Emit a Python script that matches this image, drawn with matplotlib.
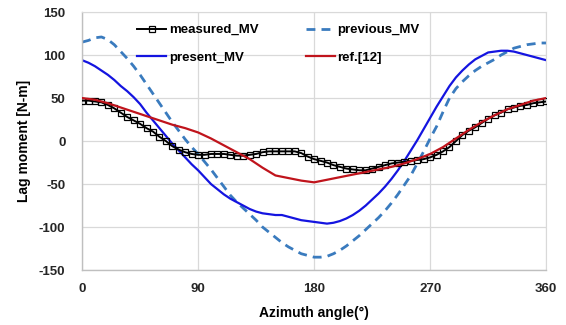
import matplotlib
matplotlib.use("Agg")
import matplotlib.pyplot as plt
import numpy as np

plt.rcParams['font.family'] = ['Liberation Sans', 'DejaVu Sans']
plt.rcParams['axes.unicode_minus'] = False

angle = list(range(0, 361, 5))

measured_MV = [47, 47, 46, 45, 42, 38, 33, 28, 24, 20, 15, 11, 5, 0, -6, -10, -13, -15,
               -16, -16, -15, -15, -15, -16, -17, -17, -16, -15, -13, -12, -12, -12, -12,
               -12, -14, -18, -21, -23, -25, -28, -30, -32, -33, -34, -34, -32, -30, -28,
               -26, -25, -24, -23, -22, -21, -19, -16, -12, -7, 0, 7, 12, 16, 21, 26, 30,
               33, 37, 39, 41, 42, 44, 45, 46]

present_MV = [94, 91, 87, 82, 77, 71, 64, 58, 51, 43, 33, 24, 15, 6, -3, -11, -19, -27,
              -34, -42, -50, -56, -62, -67, -71, -75, -79, -82, -84, -85, -86, -86, -88,
              -90, -92, -93, -94, -95, -96, -95, -93, -90, -86, -81, -75, -68, -61, -53,
              -44, -34, -23, -11, 1, 14, 27, 40, 52, 64, 74, 82, 89, 95, 99, 103, 104,
              105, 105, 104, 102, 100, 98, 96, 94]

previous_MV = [115, 117, 120, 121, 118, 112, 104, 96, 87, 77, 66, 55, 44, 33, 22, 12, 2,
               -7, -15, -24, -33, -43, -53,
               -63, -71, -78, -85, -92, -100, -106, -112, -118, -123,
               -127, -131, -133, -135, -135, -134, -131, -127, -122, -116,
               -110, -103, -96, -89, -81, -72, -62, -51, -40, -26,
               -12, 3, 17, 34, 50, 61, 69, 76, 82, 87,
               91, 95, 100, 104, 108, 110, 112, 113, 114, 114]

ref_angle = list(range(0, 361, 10))
ref_12 = [50, 48, 44, 39, 34, 29, 24, 19, 15, 10, 3, -5, -13, -21, -31, -40, -43, -46,
          -48, -45, -42, -39, -36, -33, -30, -26, -21, -15, -7, 3, 13, 22, 30, 37, 42,
          47, 50]

x_ticks = [0, 90, 180, 270, 360]
y_ticks = [-150, -100, -50, 0, 50, 100, 150]

fig = plt.figure(figsize=(5.66, 3.25), dpi=100)
ax = fig.add_axes([0.145, 0.169, 0.82, 0.794])

l_meas, = ax.plot(angle, measured_MV, color='black', lw=1.4, marker='s', markersize=4.5,
                  markerfacecolor='none', markeredgecolor='black', markeredgewidth=0.9,
                  label='measured_MV', zorder=3)
l_prev, = ax.plot(angle, previous_MV, color='#3A7BBE', lw=2.0, dashes=(3.2, 2.2),
                  label='previous_MV', zorder=2)
l_pres, = ax.plot(angle, present_MV, color='#1414E0', lw=1.6, label='present_MV', zorder=2)
l_ref, = ax.plot(ref_angle, ref_12, color='#C0141C', lw=1.6, label='ref.[12]', zorder=4)

ax.set_xlim(0, 360)
ax.set_ylim(-150, 150)
ax.set_xticks(x_ticks)
ax.set_yticks(y_ticks)
ax.grid(True, color='#D9D9D9', lw=0.9)
ax.set_axisbelow(True)
ax.tick_params(length=0, labelsize=9.5, pad=9)
for lab in ax.get_xticklabels() + ax.get_yticklabels():
    lab.set_fontweight('bold')
    lab.set_color('#262626')
ax.tick_params(axis='y', pad=12)
for s in ['top', 'right']:
    ax.spines[s].set_color('#D9D9D9')
for s in ['left', 'bottom']:
    ax.spines[s].set_color('#BFBFBF')
    ax.spines[s].set_linewidth(1.0)

ax.set_xlabel('Azimuth angle(°)', fontsize=10, fontweight='bold', labelpad=8)
ax.set_ylabel('Lag moment [N-m]', fontsize=10, fontweight='bold', labelpad=6)

leg = ax.legend(handles=[l_meas, l_pres, l_prev, l_ref], ncol=2, frameon=False,
                loc='upper left', bbox_to_anchor=(0.093, 1.0),
                prop={'weight': 'bold', 'size': 9.5}, handlelength=2.2,
                handletextpad=0.2, columnspacing=3.6, labelspacing=1.15)

fig.savefig('out.png', dpi=100)
